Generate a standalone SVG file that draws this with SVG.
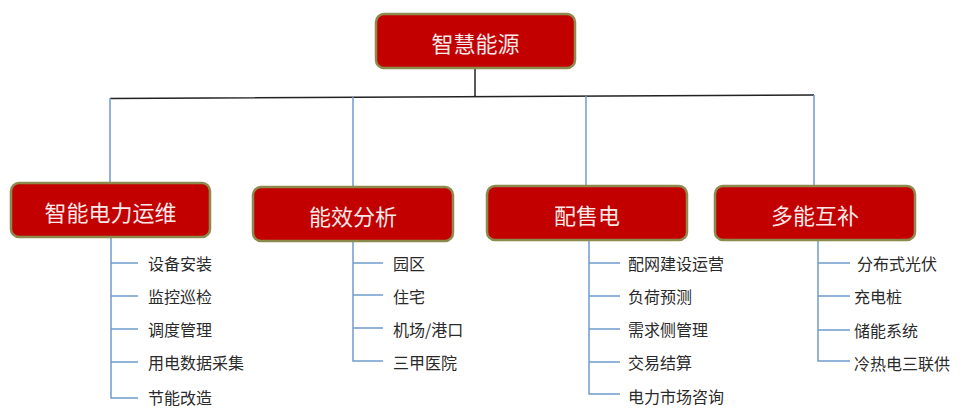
<svg xmlns="http://www.w3.org/2000/svg" width="969" height="418" viewBox="0 0 969 418">
<style>
.box{fill:#c20000;stroke:#8c8a4c;stroke-width:2.5}
.title{font-family:"Noto Sans CJK SC","Liberation Sans",sans-serif;font-size:22px;fill:#fbe8e8;text-anchor:middle;dominant-baseline:central}
.item{font-family:"Noto Sans CJK SC","Liberation Sans",sans-serif;font-size:16px;fill:#2a2a2a;dominant-baseline:central}
.dark{stroke:#222;stroke-width:1.5;fill:none}
.blue{stroke:#6f9ccc;stroke-width:1.5;fill:none}
</style>
<rect width="969" height="418" fill="#fff"/>
<g id="connectors">
<path class="dark" d="M475 68V97M110 98.5L814 95"/>
<path class="blue" d="M110 98V183M353 97V187M586 96V186M814 95V186"/>
<path class="blue" d="M111 237V398H138M111 263H138M111 296H138M111 329H138M111 362H138"/>
<path class="blue" d="M353 241V361H383M353 263H383M353 295H383M353 328H383"/>
<path class="blue" d="M589 240V394H620M589 263H620M589 296H620M589 329H620M589 362H620"/>
<path class="blue" d="M818 240V361H850M818 263H850M818 296H850M818 330H850"/>
</g>
<g id="root"><rect class="box" x="376" y="14" width="199" height="54" rx="8"/><text class="title" x="475.5" y="42">智慧能源</text></g>
<g id="n1"><rect class="box" x="11" y="183" width="199" height="54" rx="8"/><text class="title" x="110.5" y="211">智能电力运维</text></g>
<g id="n2"><rect class="box" x="253" y="187" width="200" height="54" rx="8"/><text class="title" x="353" y="215">能效分析</text></g>
<g id="n3"><rect class="box" x="487" y="186" width="200" height="54" rx="8"/><text class="title" x="587" y="214">配售电</text></g>
<g id="n4"><rect class="box" x="715" y="186" width="200" height="54" rx="8"/><text class="title" x="815" y="214">多能互补</text></g>
<g id="n1-items">
<text class="item" x="148" y="263">设备安装</text>
<text class="item" x="148" y="296">监控巡检</text>
<text class="item" x="148" y="329">调度管理</text>
<text class="item" x="148" y="362">用电数据采集</text>
<text class="item" x="148" y="397">节能改造</text>
</g>
<g id="n2-items">
<text class="item" x="393" y="263">园区</text>
<text class="item" x="393" y="296">住宅</text>
<text class="item" x="393" y="329">机场/港口</text>
<text class="item" x="393" y="362">三甲医院</text>
</g>
<g id="n3-items">
<text class="item" x="628" y="263">配网建设运营</text>
<text class="item" x="628" y="296">负荷预测</text>
<text class="item" x="628" y="329">需求侧管理</text>
<text class="item" x="628" y="362">交易结算</text>
<text class="item" x="628" y="396">电力市场咨询</text>
</g>
<g id="n4-items">
<text class="item" x="857" y="263">分布式光伏</text>
<text class="item" x="854" y="296">充电桩</text>
<text class="item" x="854" y="330">储能系统</text>
<text class="item" x="854" y="363">冷热电三联供</text>
</g>
</svg>
